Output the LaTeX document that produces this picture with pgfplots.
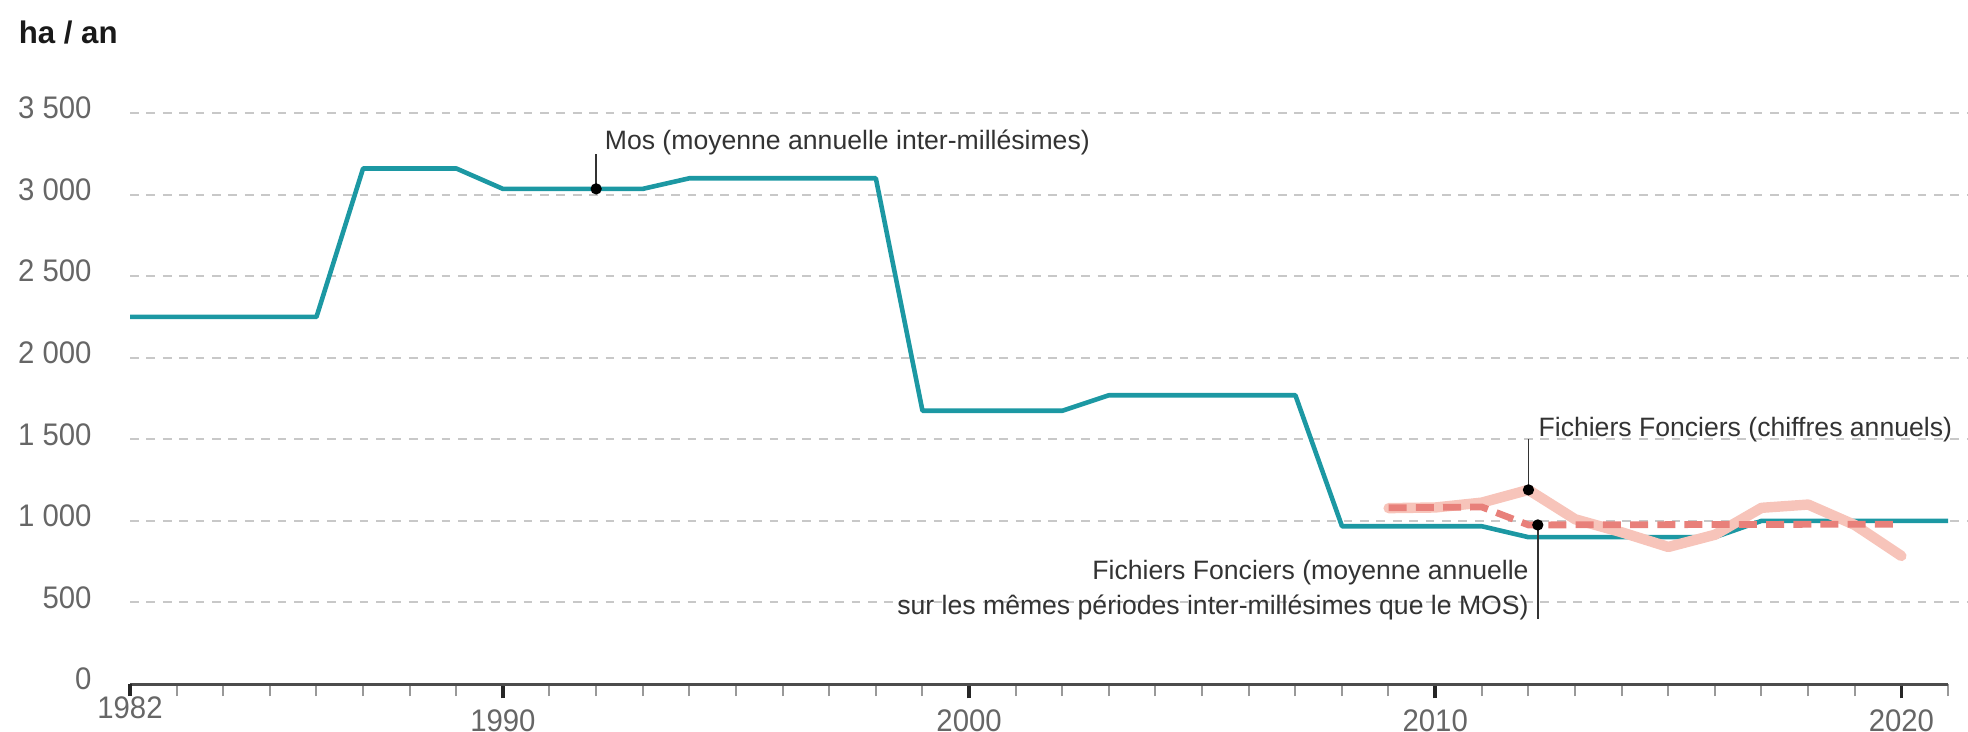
\documentclass[border=0pt]{standalone}
\usepackage{pgfplots}
\pgfplotsset{compat=1.18}
\usepackage{fontspec}
\setmainfont{Liberation Sans}
\newfontfamily\tickfont[FakeStretch=0.94]{Liberation Sans}
\definecolor{teal1}{HTML}{1C98A3}
\definecolor{pinkl}{HTML}{F7C4BA}
\definecolor{salmon}{HTML}{E8807A}
\definecolor{gridc}{HTML}{C8C8C8}
\definecolor{tickc}{HTML}{666666}
\definecolor{txtc}{HTML}{333333}
\definecolor{minorc}{HTML}{999999}
\begin{document}
\begin{tikzpicture}
\useasboundingbox (-32.5pt,-11.75pt) rectangle (459.5pt,171pt);
\begin{axis}[
  at={(0pt,0pt)}, anchor=south west,
  scale only axis, width=454.5pt, height=142.75pt,
  xmin=1982, xmax=2021, ymin=0, ymax=3500,
  clip=false,
  axis x line=bottom, axis y line=left,
  axis line style={-},
  x axis line style={draw=black!70, line width=0.75pt},
  y axis line style={draw=none},
  tick align=outside,
  xtick={1990,2000,2010,2020},
  xticklabels={1990,2000,2010,2020},
  minor xtick={1982,...,2021},
  extra x ticks={1982},
  extra x tick labels={1982},
  extra x tick style={major tick style={draw=minorc,line width=0.5pt}, major tick length=3pt, xticklabel style={yshift=2.5pt}},
  major tick length=3.6pt, minor tick length=3pt,
  xtick style={draw=black!85, line width=0.9pt},
  minor x tick style={draw=minorc, line width=0.5pt},
  ytick={0,500,...,3500},
  yticklabels={0,500,1 000,1 500,2 000,2 500,3 000,3 500},
  ytick style={draw=none},
  ticklabel style={font=\tickfont\fontsize{7.8}{9}\selectfont, text=tickc},
  yticklabel style={anchor=east, yshift=1.25pt, xshift=-2.5pt},
  xticklabel style={anchor=north, yshift=0.8pt},
]
\pgfplotsinvokeforeach{500,1000,1500,2000,2500,3000,3500}{
  \draw[gridc, line width=0.5pt, dash pattern=on 2.2pt off 1.9pt] (axis cs:1982,#1) -- (axis cs:2021.43,#1);
}
\addplot[teal1, line width=1.15pt, line join=round] coordinates {
(1982,2250)(1986,2250)(1987,3160)(1989,3160)(1990,3035)(1993,3035)(1994,3100)(1998,3100)(1999,1675)(2002,1675)(2003,1770)(2007,1770)(2008,967)(2011,967)(2012,900)(2016,900)(2017,1000)(2021,1000)};
\addplot[pinkl, line width=2.6pt, line join=round, line cap=round] coordinates {
(2009,1078)(2010,1082)(2011,1112)(2012,1190)(2013,1010)(2014,930)(2015,840)(2016,915)(2017,1080)(2018,1100)(2019,975)(2020,785)};
\addplot[salmon, line width=1.7pt, dash pattern=on 4.5pt off 2.3pt] coordinates {
(2009,1080)(2011,1085)(2012,975)(2020,980)};
\draw[txtc, line width=0.4pt] (axis cs:1992,3035) -- (axis cs:1992,3250);
\draw[txtc, line width=0.4pt] (axis cs:2012,1190) -- (axis cs:2012,1500);
\draw[txtc, line width=0.4pt] (axis cs:2012.2,975) -- (axis cs:2012.2,400);
\addplot[only marks, mark=*, mark size=1.2pt, black] coordinates {(1992,3035)(2012,1190)(2012.2,975)};
\node[anchor=west, inner sep=0pt, font=\fontsize{6.65}{8}\selectfont, text=txtc] at (axis cs:1992.17,3322) {Mos (moyenne annuelle inter-millésimes)};
\node[anchor=west, inner sep=0pt, font=\fontsize{6.65}{8}\selectfont, text=txtc] at (axis cs:2012.2,1557) {Fichiers Fonciers (chiffres annuels)};
\node[anchor=east, inner sep=0pt, align=right, font=\fontsize{6.65}{8.75}\selectfont, text=txtc] at (axis cs:2012.02,573) {Fichiers Fonciers (moyenne annuelle\\sur les mêmes périodes inter-millésimes que le MOS)};
\end{axis}
\node[anchor=west, inner sep=0pt, font=\bfseries\fontsize{7.8}{9}\selectfont, text=black!90] at (-28pt,162.75pt) {ha / an};
\end{tikzpicture}
\end{document}
